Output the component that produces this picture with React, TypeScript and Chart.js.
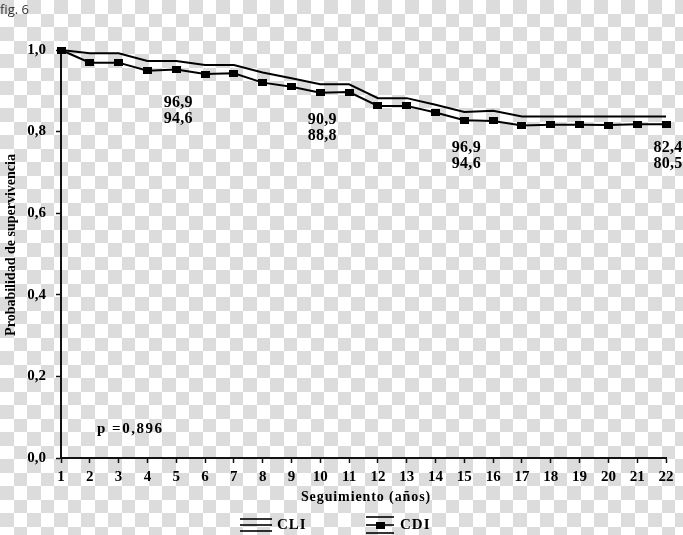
import React, { useEffect, useRef } from 'react';
import { Chart, registerables } from 'chart.js';

Chart.register(...registerables);

const years = [1, 2, 3, 4, 5, 6, 7, 8, 9, 10, 11, 12, 13, 14, 15, 16, 17, 18, 19, 20, 21, 22];
const cliValues = [1.0, 0.992, 0.992, 0.973, 0.973, 0.963, 0.963, 0.945, 0.931, 0.916, 0.916, 0.882, 0.882, 0.866, 0.848, 0.851, 0.837, 0.837, 0.837, 0.837, 0.837, 0.837];
const cdiValues = [1.0, 0.969, 0.969, 0.949, 0.952, 0.941, 0.943, 0.92, 0.91, 0.895, 0.897, 0.863, 0.863, 0.847, 0.828, 0.826, 0.815, 0.817, 0.817, 0.816, 0.818, 0.818];
const yTickValues = [0, 0.2, 0.4, 0.6, 0.8, 1.0];
const seriesLabels = ['CLI', 'CDI'];
const annotationYears = [5, 10, 15, 22];
const annotationLevels = [0.87, 0.828, 0.76, 0.76];
const annotationUpper = ['96,9', '90,9', '96,9', '82,4'];
const annotationLower = ['94,6', '88,8', '94,6', '80,5'];
const pValueText = 'p =0,896';
const xTitle = 'Seguimiento (años)';
const yTitle = 'Probabilidad de supervivencia';
const figLabel = 'fig. 6';

const SERIF = "'Liberation Serif', 'Times New Roman', serif";

function drawText(ctx: any, text: string, x: number, y: number, font: string, align: string, spacing = 0, color = '#000') {
  ctx.save();
  ctx.font = font;
  ctx.fillStyle = color;
  ctx.textBaseline = 'middle';
  try { ctx.letterSpacing = spacing + 'px'; } catch (e) { /* ignore */ }
  const w = ctx.measureText(text).width;
  let sx = x;
  if (align === 'center') sx = x - w / 2;
  else if (align === 'right') sx = x - w;
  ctx.textAlign = 'left';
  ctx.fillText(text, sx, y);
  ctx.restore();
}

const decorPlugin = {
  id: 'decor',
  beforeDraw(chart: any) {
    const ctx = chart.ctx;
    const { width, height } = chart;
    ctx.save();
    ctx.fillStyle = '#ffffff';
    ctx.fillRect(0, 0, width, height);
    ctx.fillStyle = '#dcdcdc';
    const s = 13.5;
    for (let r = 0; r * s < height; r++) {
      for (let c = 0; c * s < width; c++) {
        if ((r + c) % 2 === 0) {
          const x0 = Math.round(c * s), x1 = Math.round((c + 1) * s);
          const y0 = Math.round(r * s), y1 = Math.round((r + 1) * s);
          ctx.fillRect(x0, y0, x1 - x0, y1 - y0);
        }
      }
    }
    ctx.restore();
  },
  afterDraw(chart: any) {
    const ctx = chart.ctx;
    const xs = chart.scales.x;
    const ys = chart.scales.y;
    // fig label
    drawText(ctx, figLabel, 0, 10, "13px 'Open Sans', sans-serif", 'left', 0, '#333');
    // annotations
    annotationYears.forEach((yr, i) => {
      const px = xs.getPixelForValue(yr) + 2;
      const py = ys.getPixelForValue(annotationLevels[i]);
      drawText(ctx, annotationUpper[i], px, py, `bold 16px ${SERIF}`, 'center', 0.3);
      drawText(ctx, annotationLower[i], px, py + 16, `bold 16px ${SERIF}`, 'center', 0.3);
    });
    // p value
    drawText(ctx, pValueText, xs.getPixelForValue(2.25), ys.getPixelForValue(0.071), `bold 15px ${SERIF}`, 'left', 1.5);
    // axis titles
    const ca = chart.chartArea;
    drawText(ctx, xTitle, 366, 497, `bold 14px ${SERIF}`, 'center', 0.9);
    ctx.save();
    ctx.translate(11, 245);
    ctx.rotate(-Math.PI / 2);
    drawText(ctx, yTitle, 0, 0, `bold 14px ${SERIF}`, 'center', 0);
    ctx.restore();
    // legend
    ctx.save();
    ctx.strokeStyle = '#000';
    ctx.lineWidth = 1.6;
    [519, 525, 531].forEach((ly) => {
      ctx.beginPath(); ctx.moveTo(240, ly); ctx.lineTo(272, ly); ctx.stroke();
    });
    [517, 525, 533].forEach((ly) => {
      ctx.beginPath(); ctx.moveTo(366, ly); ctx.lineTo(394, ly); ctx.stroke();
    });
    ctx.fillStyle = '#000';
    ctx.fillRect(376, 522, 9, 7);
    ctx.restore();
    drawText(ctx, seriesLabels[0], 277, 525, `bold 15px ${SERIF}`, 'left', 1);
    drawText(ctx, seriesLabels[1], 400, 525, `bold 15px ${SERIF}`, 'left', 1);
    void ca;
  },
};

export default function App() {
  const canvasRef = useRef<HTMLCanvasElement | null>(null);

  useEffect(() => {
    const canvas = canvasRef.current;
    if (!canvas) return;
    const marker = document.createElement('canvas');
    marker.width = 9;
    marker.height = 7;
    const mctx = marker.getContext('2d');
    if (mctx) {
      mctx.fillStyle = '#000';
      mctx.fillRect(0, 0, 9, 7);
    }
    const chart = new Chart(canvas, {
      type: 'line',
      data: {
        datasets: [
          {
            label: seriesLabels[0],
            data: years.map((x, i) => ({ x, y: cliValues[i] })),
            borderColor: '#000',
            borderWidth: 2,
            pointRadius: 0,
            tension: 0,
            fill: false,
            clip: false as any,
          },
          {
            label: seriesLabels[1],
            data: years.map((x, i) => ({ x, y: cdiValues[i] })),
            borderColor: '#000',
            borderWidth: 2,
            pointStyle: marker as any,
            pointRadius: 5,
            backgroundColor: '#000',
            tension: 0,
            fill: false,
            clip: false as any,
          },
        ],
      },
      options: {
        responsive: false,
        animation: false,
        devicePixelRatio: 1,
        layout: { padding: { left: 0, top: 50, right: 17, bottom: 0 } },
        plugins: {
          legend: { display: false },
          tooltip: { enabled: false },
          title: { display: false },
        },
        scales: {
          x: {
            type: 'linear',
            min: years[0],
            max: years[years.length - 1],
            afterFit: (scale: any) => { scale.height = 77; },
            afterBuildTicks: (scale: any) => { scale.ticks = years.map((v) => ({ value: v })); },
            ticks: {
              autoSkip: false,
              maxRotation: 0,
              padding: 5,
              color: '#000',
              font: { family: SERIF, size: 15, weight: 'bold' },
              callback: (v: any) => String(v),
            },
            grid: { display: true, drawOnChartArea: false, tickLength: 5, tickColor: '#111', tickWidth: 1.5 },
            border: { display: true, color: '#111', width: 2 },
          },
          y: {
            type: 'linear',
            min: 0,
            max: 1,
            afterFit: (scale: any) => { scale.width = 61; },
            afterBuildTicks: (scale: any) => { scale.ticks = yTickValues.map((v) => ({ value: v })); },
            ticks: {
              padding: 10,
              color: '#000',
              font: { family: SERIF, size: 15, weight: 'bold' },
              callback: (v: any) => Number(v).toFixed(1).replace('.', ','),
            },
            grid: { display: true, drawOnChartArea: false, tickLength: 5, tickColor: '#111', tickWidth: 1.5 },
            border: { display: true, color: '#111', width: 2 },
          },
        },
      },
      plugins: [decorPlugin],
    } as any);
    return () => chart.destroy();
  }, []);

  return (
    <div style={{ position: 'fixed', left: 0, top: 0, width: 683, height: 535 }}>
      <canvas ref={canvasRef} width={683} height={535} style={{ width: 683, height: 535, display: 'block' }} />
    </div>
  );
}
